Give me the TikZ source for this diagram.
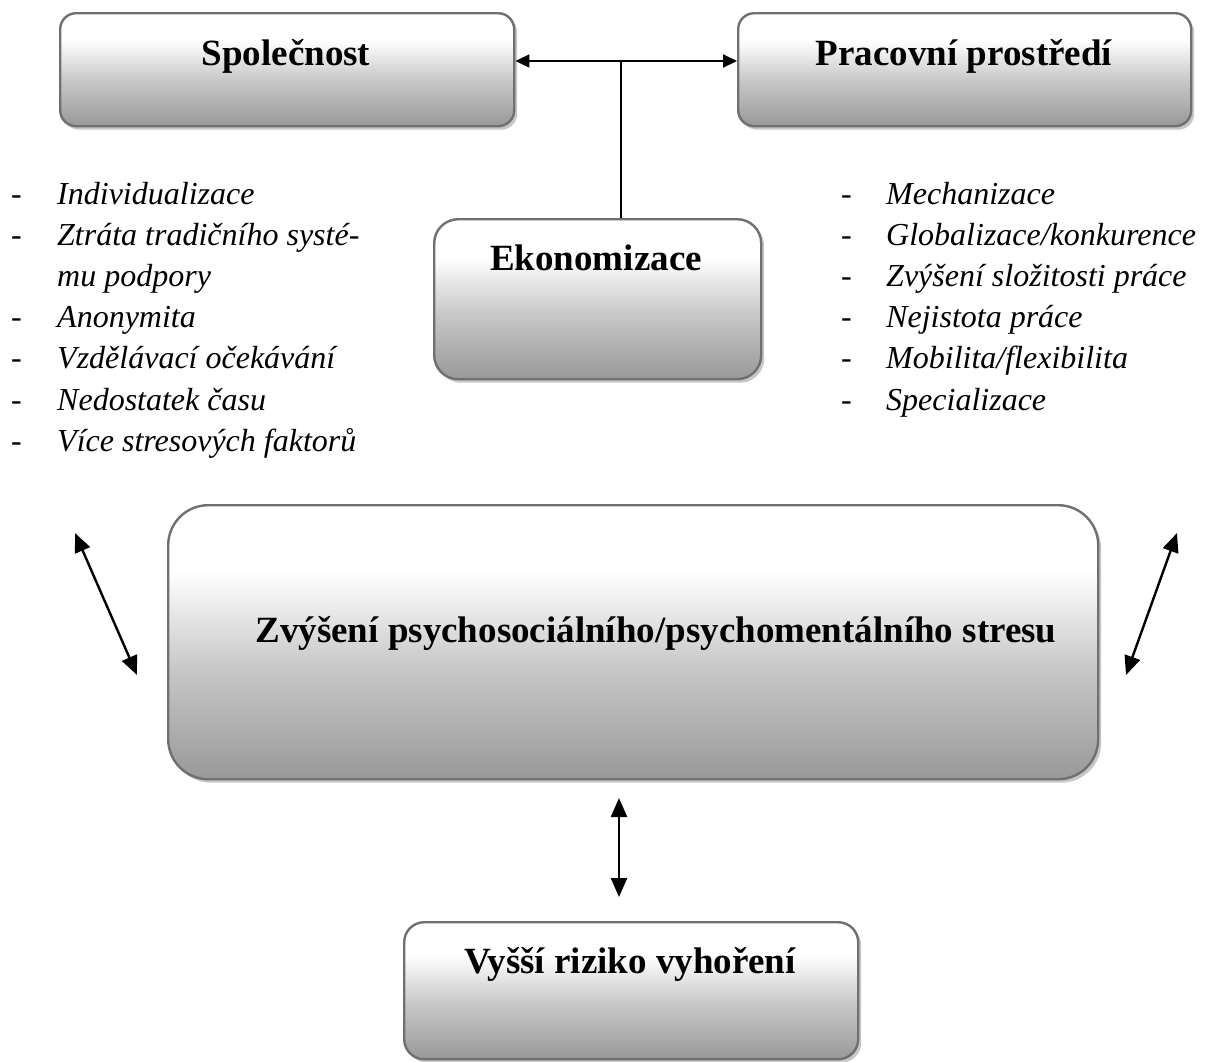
\documentclass[tikz,border=0pt]{standalone}
\usepackage{fontspec}
\setmainfont{Liberation Serif}
\usetikzlibrary{arrows.meta,shadows,calc}
\pgfdeclareverticalshading{boxshade}{100bp}{color(0bp)=(black!40); color(25bp)=(black!40); color(45bp)=(black!22); color(63bp)=(white); color(100bp)=(white)}
\begin{document}
\begin{tikzpicture}[x=1pt,y=1pt,
  boxbase/.style={draw=black!56, line width=2.4pt, shading=boxshade, inner sep=0pt, anchor=north west,
    drop shadow={shadow xshift=3pt, shadow yshift=-3.5pt, fill=black!22, opacity=1}},
  head/.style={font=\fontsize{37}{44}\selectfont\bfseries, anchor=base, inner sep=0pt},
  item/.style={font=\fontsize{32}{38}\selectfont\itshape, anchor=base west, inner sep=0pt},
  dashmark/.style={font=\fontsize{32}{38}\selectfont, anchor=base west, inner sep=0pt},
  link/.style={line width=1.6pt},
  dblthin/.style={line width=1.8pt, {Triangle[length=14pt,width=13pt]}-{Triangle[length=14pt,width=13pt]}},
  dbl/.style={line width=2.4pt, {Triangle[length=19pt,width=16pt]}-{Triangle[length=19pt,width=16pt]}},
]
\useasboundingbox[fill=white] (0,0) rectangle (1210,-1061);

% boxes
\node[boxbase, rounded corners=16pt, minimum width=454pt, minimum height=113pt] (spol) at (59,-12) {};
\node[boxbase, rounded corners=16pt, minimum width=453pt, minimum height=113pt] (prac) at (737,-12) {};
\node[boxbase, rounded corners=24pt, minimum width=327pt, minimum height=160pt] (eko) at (433,-218) {};
\node[boxbase, rounded corners=40pt, minimum width=930pt, minimum height=274pt] (big) at (167,-504) {};
\node[boxbase, rounded corners=20pt, minimum width=454pt, minimum height=137pt] (bot) at (403,-921) {};

% box texts
\node[head] (spolT) at (286,-65) {Společnost};
\node[head] (pracT) at (964,-65) {Pracovní prostředí};
\node[head] (ekoT) at (596,-270) {Ekonomizace};
\node[head] (bigT) at (656,-642) {Zvýšení psychosociálního/psychomentálního stresu};
\node[head] (botT) at (630,-973) {Vyšší riziko vyhoření};

% left list
\foreach \y/\t/\d [count=\i] in {
  204/Individualizace/1,
  245.2/Ztráta tradičního systé-/1,
  286.4/mu podpory/0,
  327.6/Anonymita/1,
  368.8/Vzdělávací očekávání/1,
  410/Nedostatek času/1,
  451.2/Více stresových faktorů/1} {
  \node[item] (l\i) at (57,-\y) {\t};
  \ifnum\d=1 \node[dashmark] (ld\i) at (11,-\y) {-}; \fi
}

% right list
\foreach \y/\t [count=\i] in {
  204/Mechanizace,
  245.2/Globalizace\slash konkurence,
  286.4/Zvýšení složitosti práce,
  327.6/Nejistota práce,
  368.8/Mobilita\slash flexibilita,
  410/Specializace} {
  \node[item] (r\i) at (886,-\y) {\t};
  \node[dashmark] (rd\i) at (841,-\y) {-};
}

% connectors
\coordinate (hy) at (621,-61);
\draw[dblthin] (spol.east |- hy) -- (prac.west |- hy);
\draw[link] (hy) -- (hy |- eko.north);

\coordinate (la) at (75,-533);
\coordinate (lb) at (137,-675);
\draw[dbl] (la) -- (lb);
\coordinate (ra) at (1177,-533);
\coordinate (rb) at (1126,-675);
\draw[dbl] (ra) -- (rb);

\coordinate (va) at (619,-798);
\coordinate (vb) at (619,-897);
\draw[dbl] (va) -- (vb);
\end{tikzpicture}
\end{document}
